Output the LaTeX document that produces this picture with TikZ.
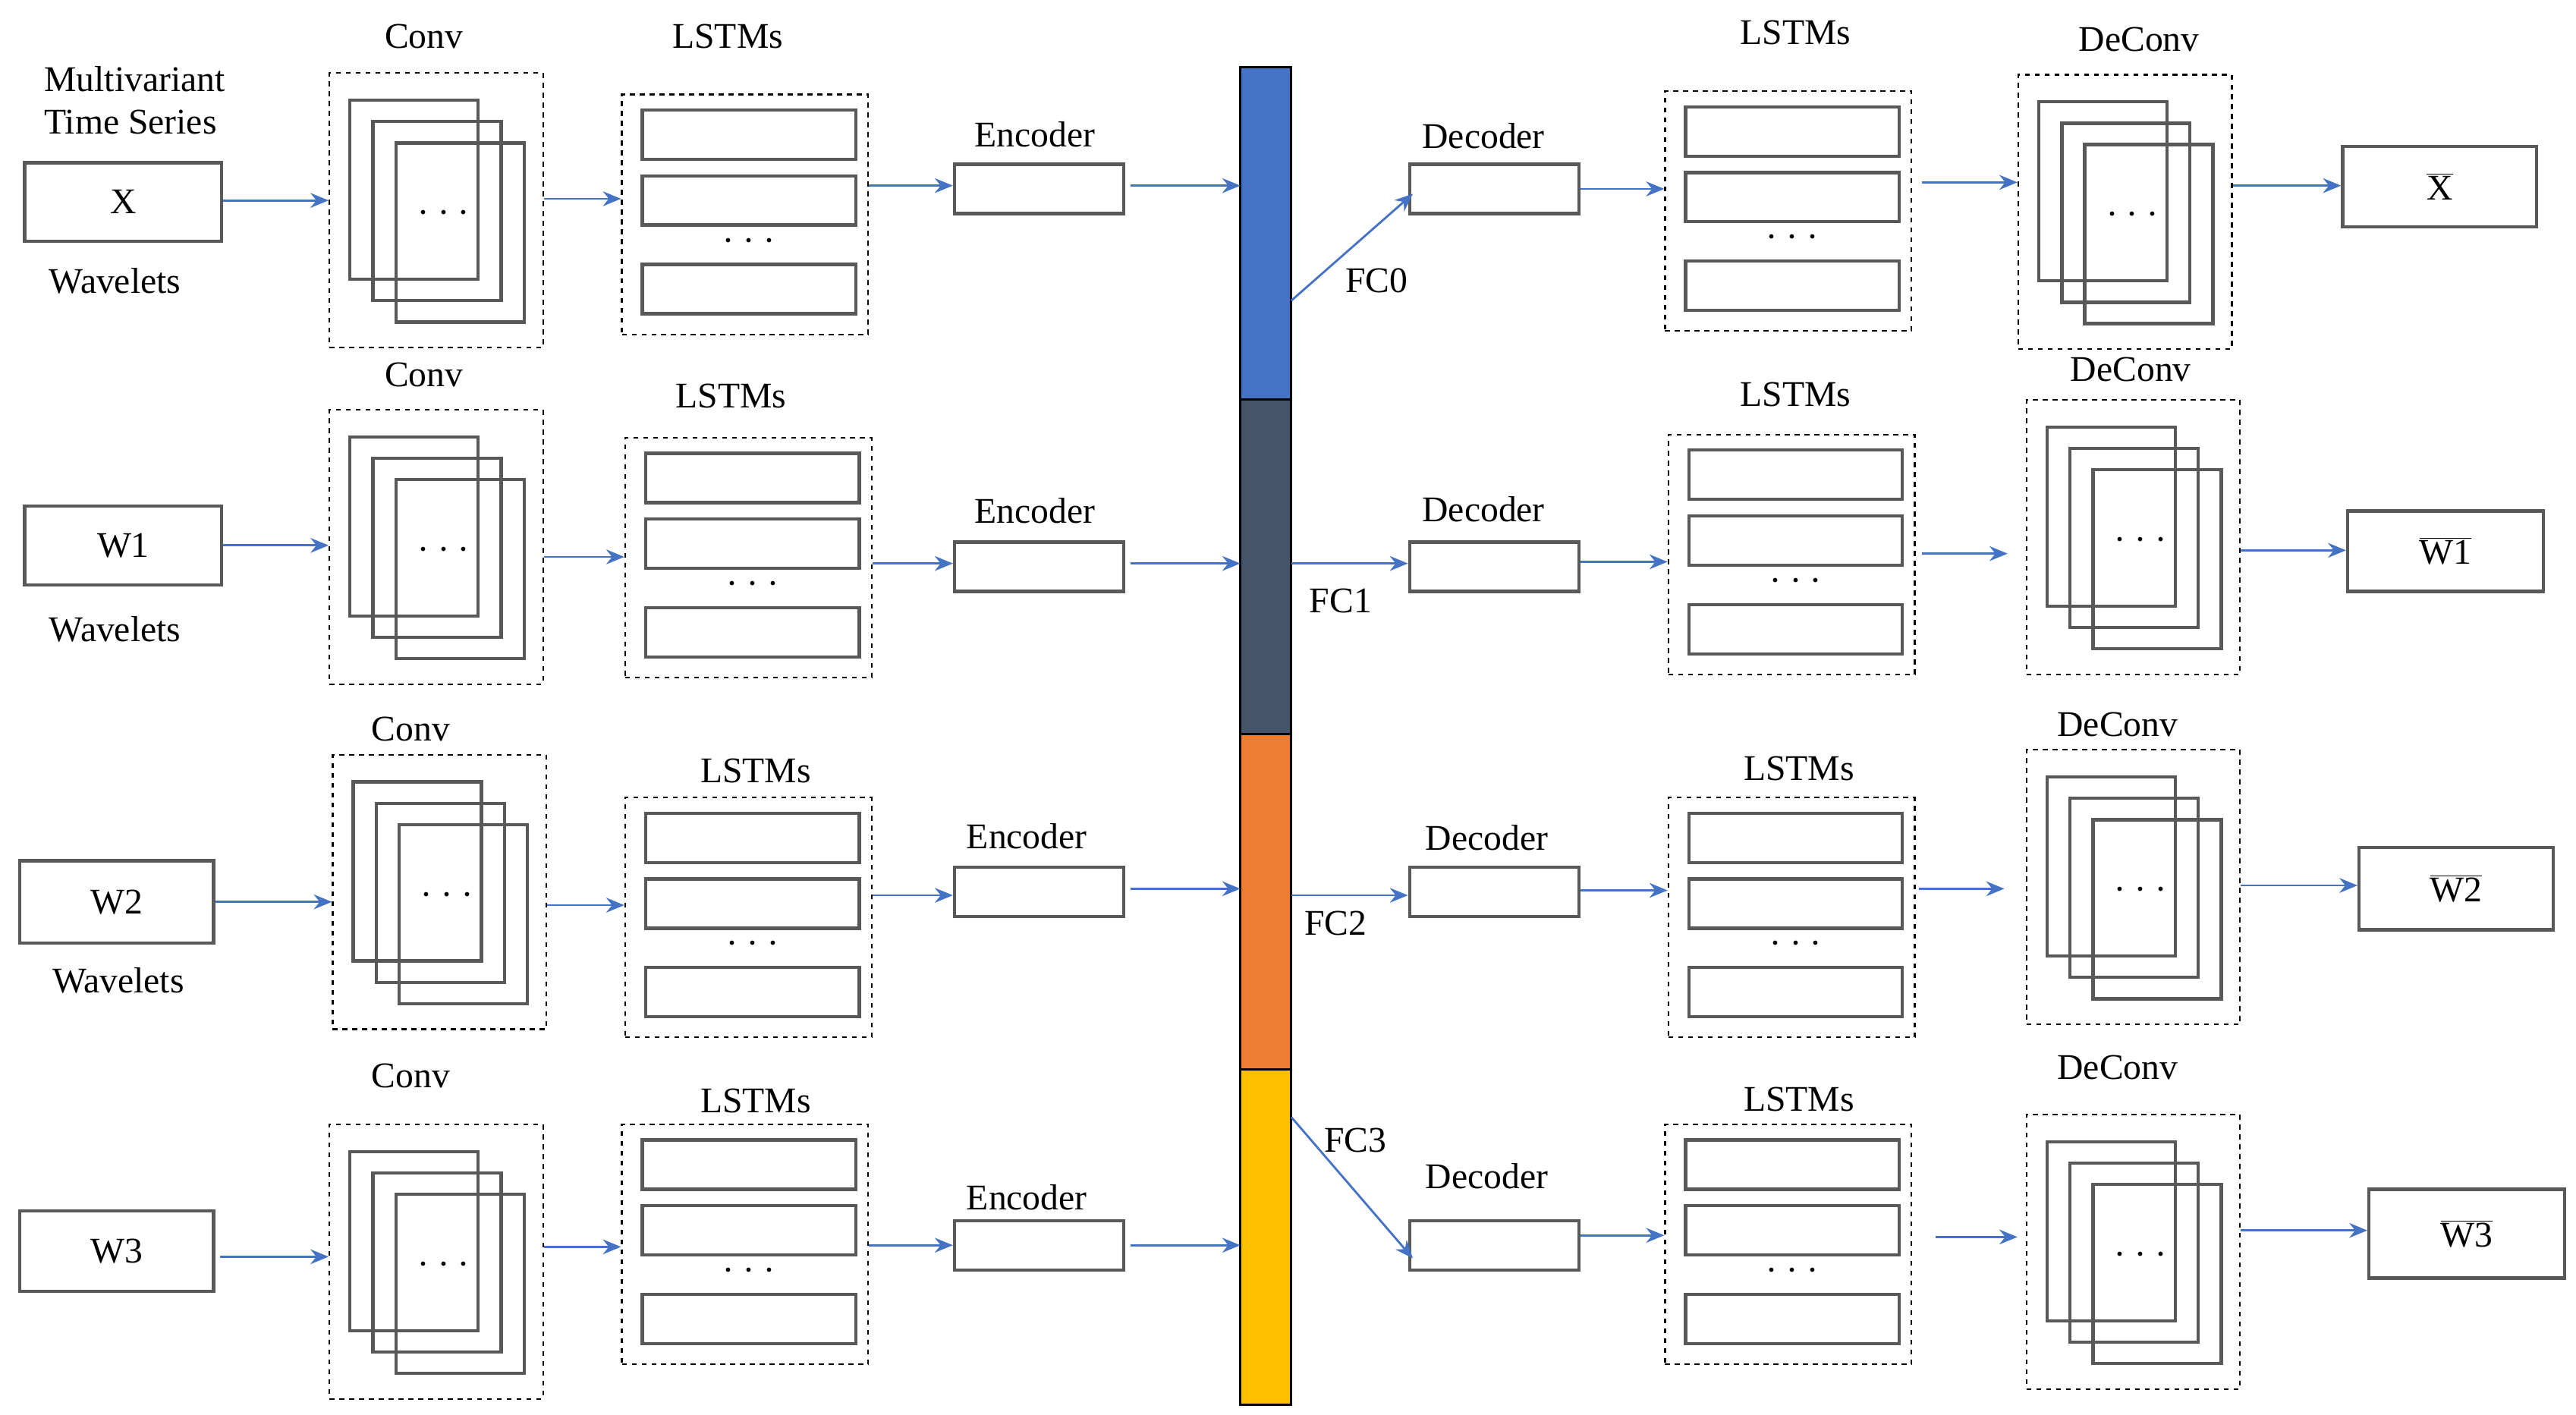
\documentclass[tikz,border=0pt]{standalone}
\usetikzlibrary{arrows.meta}
\usepackage{fontspec}
\setmainfont{Liberation Serif}
\definecolor{ln}{HTML}{595959}
\definecolor{ar}{HTML}{4472C4}
\definecolor{bb}{HTML}{44546A}\definecolor{bo}{HTML}{ED7D31}\definecolor{by}{HTML}{FFC000}
\begin{document}
\begin{tikzpicture}[x=1pt,y=-1pt,
  box/.style={draw=ln,line width=2pt,fill=white,inner sep=0pt},
  obox/.style={draw=ln,line width=2pt},
  dbox/.style={draw=black,dashed,line width=1pt,inner sep=0pt},
  arr/.style={draw=ar,line width=1.3pt,-{Stealth[length=11pt,width=9pt]}},
  lab/.style={font=\fontsize{22}{26}\selectfont,inner sep=0pt},
  dots/.style={font=\fontsize{28}{30}\selectfont\bfseries,inner sep=0pt}]
\useasboundingbox (0,0) rectangle (1568,861);
\newcommand\convblk[3]{%
 \node[dbox,minimum width=130pt,minimum height=167pt,anchor=north west] (#1) at (#2,#3) {};
 \draw[obox] ([shift={(13,17)}]#1.north west) rectangle +(78,109);
 \draw[obox] ([shift={(27,30)}]#1.north west) rectangle +(78,109);
 \draw[obox] ([shift={(41,43)}]#1.north west) rectangle +(78,109);
 \node[dots] at ([shift={(70,86)}]#1.north west) {$\cdot\cdot\cdot$};}
\newcommand\lstmblk[3]{%
 \node[dbox,minimum width=150pt,minimum height=146pt,anchor=north west] (#1) at (#2,#3) {};
 \draw[box] ([shift={(13,10)}]#1.north west) rectangle +(130,30);
 \draw[box] ([shift={(13,50)}]#1.north west) rectangle +(130,30);
 \draw[box] ([shift={(13,104)}]#1.north west) rectangle +(130,30);
 \node[dots] at ([shift={(78,90)}]#1.north west) {$\cdot\cdot\cdot$};}
\newcommand\rbox[6]{% name x1 y1 w h text
 \node[box,minimum width=#4pt,minimum height=#5pt,anchor=north west,font=\fontsize{22}{26}\selectfont] (#1) at (#2,#3) {#6};}
% bar
\fill[ar] (755,41) rectangle (786,243);
\fill[bb] (755,243) rectangle (786,447);
\fill[bo] (755,447) rectangle (786,651);
\fill[by] (755,651) rectangle (786,855);
\draw[line width=1.5pt] (755,41) rectangle (786,855);
\draw[line width=1.5pt] (755,243)--(786,243) (755,447)--(786,447) (755,651)--(786,651);
\coordinate (b0) at (755,113); \coordinate (b1) at (755,343);
\coordinate (b2) at (755,541); \coordinate (b3) at (755,758);
% ROW 1
\node[lab,align=left] at (82,61) {Multivariant\\Time Series};
\rbox{x}{14}{98}{120}{48}{X}
\node[lab] (wv0) at (70,171) {Wavelets};
\convblk{c0}{200}{44}\node[lab] at (258,22) {Conv};
\lstmblk{l0}{378}{57}\node[lab] at (443,22) {LSTMs};
\node[lab] at (630,82) {Encoder};
\rbox{e0}{580}{99}{103}{30}{}
\draw[arr] (x.east|-0,122) -- (c0.west|-0,122);
\draw[arr] (c0.east|-0,121) -- (l0.west|-0,121);
\draw[arr] (l0.east|-0,113) -- (e0.west|-0,113);
\draw[arr] (688,113) -- (b0);
\node[lab] at (903,83) {Decoder};
\rbox{d0}{857}{99}{103}{30}{}
\draw[arr] (786,183) -- (860,118); \node[lab] at (838,171) {FC0};
\lstmblk{r0}{1013}{55}\node[lab] at (1093,20) {LSTMs};
\convblk{k0}{1228}{45}\node[lab] at (1302,24) {DeConv};
\rbox{o0}{1425}{88}{118}{49}{$\overline{\mathrm{X}}$}
\draw[arr] (d0.east|-0,115) -- (r0.west|-0,115);
\draw[arr] (1170,111) -- (k0.west|-0,111);
\draw[arr] (k0.east|-0,113) -- (o0.west|-0,113);
% ROW 2
\rbox{w1}{14}{307}{120}{48}{W1}
\node[lab] at (70,383) {Wavelets};
\convblk{c1}{200}{249}\node[lab] at (258,228) {Conv};
\lstmblk{l1}{380}{266}\node[lab] at (445,241) {LSTMs};
\node[lab] at (630,311) {Encoder};
\rbox{e1}{580}{329}{103}{30}{}
\draw[arr] (w1.east|-0,332) -- (c1.west|-0,332);
\draw[arr] (c1.east|-0,339) -- (l1.west|-0,339);
\draw[arr] (l1.east|-0,343) -- (e1.west|-0,343);
\draw[arr] (688,343) -- (b1);
\node[lab] at (903,310) {Decoder};
\rbox{d1}{857}{329}{103}{30}{}
\draw[arr] (786,343) -- (d1.west|-0,343); \node[lab] at (816,366) {FC1};
\lstmblk{r1}{1015}{264}\node[lab] at (1093,240) {LSTMs};
\convblk{k1}{1233}{243}\node[lab] at (1297,225) {DeConv};
\rbox{o1}{1428}{310}{119}{49}{$\overline{\mathrm{W1}}$}
\draw[arr] (d1.east|-0,342) -- (r1.west|-0,342);
\draw[arr] (1170,337) -- (1222,337);
\draw[arr] (k1.east|-0,335) -- (o1.west|-0,335);
% ROW 3
\rbox{w2}{11}{523}{118}{50}{W2}
\node[lab] at (72,597) {Wavelets};
\convblk{c2}{202}{459}\node[lab] at (250,444) {Conv};
\lstmblk{l2}{380}{485}\node[lab] at (460,469) {LSTMs};
\node[lab] at (625,509) {Encoder};
\rbox{e2}{580}{527}{103}{30}{}
\draw[arr] (w2.east|-0,549) -- (c2.west|-0,549);
\draw[arr] (c2.east|-0,551) -- (l2.west|-0,551);
\draw[arr] (l2.east|-0,545) -- (e2.west|-0,545);
\draw[arr] (688,541) -- (b2);
\node[lab] at (905,510) {Decoder};
\rbox{d2}{857}{527}{103}{30}{}
\draw[arr] (786,545) -- (d2.west|-0,545); \node[lab] at (813,562) {FC2};
\lstmblk{r2}{1015}{485}\node[lab] at (1095,468) {LSTMs};
\convblk{k2}{1233}{456}\node[lab] at (1289,441) {DeConv};
\rbox{o2}{1435}{515}{118}{50}{$\overline{\mathrm{W2}}$}
\draw[arr] (d2.east|-0,542) -- (r2.west|-0,542);
\draw[arr] (1168,541) -- (1220,541);
\draw[arr] (k2.east|-0,539) -- (o2.west|-0,539);
% ROW 4
\rbox{w3}{11}{736}{118}{49}{W3}
\convblk{c3}{200}{684}\node[lab] at (250,655) {Conv};
\lstmblk{l3}{378}{684}\node[lab] at (460,670) {LSTMs};
\node[lab] at (625,729) {Encoder};
\rbox{e3}{580}{742}{103}{30}{}
\draw[arr] (134,765) -- (c3.west|-0,765);
\draw[arr] (c3.east|-0,759) -- (l3.west|-0,759);
\draw[arr] (l3.east|-0,758) -- (e3.west|-0,758);
\draw[arr] (688,758) -- (b3);
\node[lab] at (905,716) {Decoder};
\rbox{d3}{857}{742}{103}{30}{}
\draw[arr] (786,680) -- (860,766); \node[lab] at (825,694) {FC3};
\lstmblk{r3}{1013}{684}\node[lab] at (1095,669) {LSTMs};
\convblk{k3}{1233}{678}\node[lab] at (1289,650) {DeConv};
\rbox{o3}{1441}{723}{119}{54}{$\overline{\mathrm{W3}}$}
\draw[arr] (d3.east|-0,752) -- (r3.west|-0,752);
\draw[arr] (1178,753) -- (1228,753);
\draw[arr] (k3.east|-0,749) -- (o3.west|-0,749);
\end{tikzpicture}
\end{document}
